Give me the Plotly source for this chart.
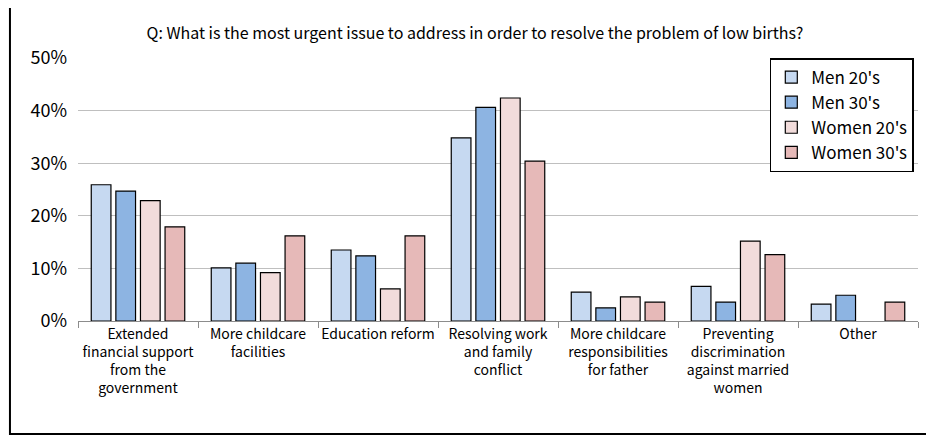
import plotly.graph_objects as go

categories = ["Extended<br>financial support<br>from the<br>government",
              "More childcare<br>facilities",
              "Education reform",
              "Resolving work<br>and family<br>conflict",
              "More childcare<br>responsibilities<br>for father",
              "Preventing<br>discrimination<br>against married<br>women",
              "Other"]
men20 = [25.9, 10.1, 13.5, 34.8, 5.5, 6.6, 3.2]
men30 = [24.7, 11.0, 12.4, 40.6, 2.5, 3.6, 4.9]
women20 = [22.9, 9.2, 6.1, 42.4, 4.6, 15.2, None]  # no bar for "Other"
women30 = [17.9, 16.2, 16.2, 30.4, 3.6, 12.6, 3.6]

series = [("Men 20's", men20, "#c6d9f1"),
          ("Men 30's", men30, "#8db4e2"),
          ("Women 20's", women20, "#f2dcdb"),
          ("Women 30's", women30, "#e6b9b8")]

font = "Noto Sans CJK KR"
fig = go.Figure()
for name, vals, color in series:
    fig.add_trace(go.Bar(x=categories, y=vals, name=name, marker_color=color,
                         marker_line=dict(color="black", width=1.2)))

fig.update_layout(
    width=934, height=435,
    margin=dict(l=70, r=24, t=50, b=122, autoexpand=False),
    plot_bgcolor="white", paper_bgcolor="white",
    font=dict(family=font, color="black"),
    barmode="group", bargap=0.18, bargroupgap=0.2,
    title=dict(text="Q: What is the most urgent issue to address in order to resolve the problem of low births?",
               x=0.5, y=0.955, xanchor="center", font=dict(size=16)),
    legend=dict(x=0.995, y=1.0, xanchor="right", yanchor="top",
                bordercolor="black", borderwidth=1.5, font=dict(size=17),
                itemwidth=30),
    shapes=[dict(type="rect", xref="paper", yref="paper", x0=-0.081, y0=-0.43,
                 x1=1.025, y1=1.209, line=dict(color="black", width=2))],
)
fig.update_yaxes(range=[0, 50], dtick=10, ticksuffix="%", gridcolor="#bfbfbf",
                 tickfont=dict(size=18), zeroline=False, ticklabelstandoff=10)
fig.update_xaxes(showline=True, linecolor="#8c8c8c", ticks="outside",
                 tickson="boundaries", ticklen=6, tickcolor="#8c8c8c",
                 tickfont=dict(size=14), tickangle=0)

fig.write_html("out.html")
